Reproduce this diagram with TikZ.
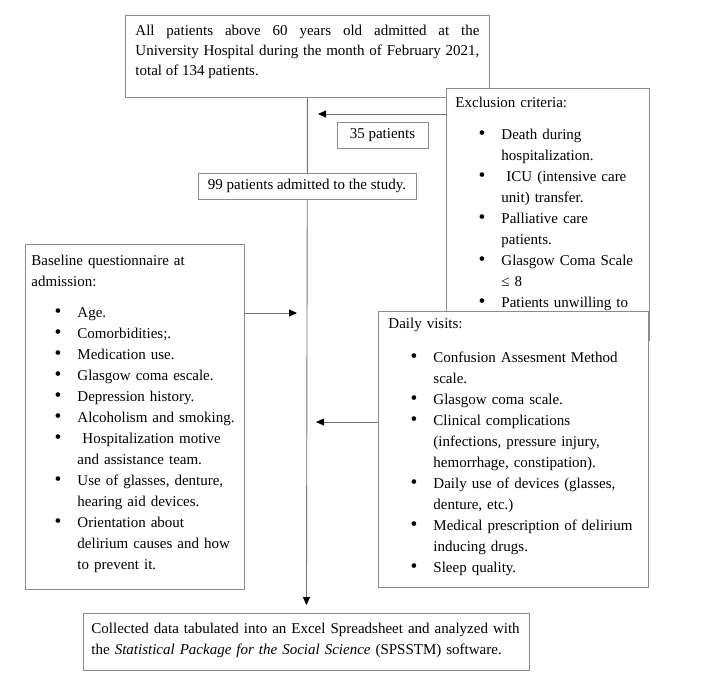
\documentclass[tikz,border=0pt]{standalone}
\usepackage{fontspec}
\setmainfont{Liberation Serif}
\usepackage{enumitem}
\usepackage{tikz}
\usetikzlibrary{arrows.meta}

\setlist[itemize]{label=\scalebox{1.3}{\textbullet}, leftmargin=46pt, labelsep=16pt,
  topsep=11pt, partopsep=0pt, itemsep=0pt, parsep=0pt}

\begin{document}
\begin{tikzpicture}[x=1pt, y=-1pt,
  box/.style={draw=black!45, line width=0.9pt, fill=white, inner ysep=0pt,
    align=left, font=\fontsize{15}{21}\selectfont},
  count/.style={draw=black!45, line width=0.9pt, fill=white, inner sep=0pt,
    minimum height=26pt, text height=10.5pt, text depth=3.5pt,
    font=\fontsize{15}{21}\selectfont},
  flow/.style={draw=black!55, line width=0.9pt},
  arr/.style={flow, -{Triangle[length=8pt, width=7pt, color=black]}}]

\useasboundingbox (0,0) rectangle (718,681);

\node[box, anchor=north west, inner xsep=10pt, text width=344pt, align=justify,
  font=\fontsize{15}{20}\selectfont, text height=20pt, text depth=62pt] (all) at (125,15)
  {All patients above 60 years old admitted at the\linebreak
   University Hospital during the month of February 2021,\linebreak
   total of 134 patients.};

\node[box, anchor=north west, inner xsep=8pt, text width=430pt,
  text height=20pt, text depth=37pt] (spss) at (83,613)
  {\mbox{Collected data tabulated into an Excel Spreadsheet and analyzed with}\\
   the \textit{Statistical Package for the Social Science} (SPSSTM) software.};

\draw[arr, shorten >=8pt] (all.south) -- (spss.north);

\node[count, minimum width=218pt] (kept) at (307,186) {99 patients admitted to the study.};
\node[count, minimum width=91pt] (lost) at (382.5,135) {35 patients};

\node[box, anchor=north west, inner xsep=9pt, text width=185pt,
  text height=19pt, text depth=233pt] (excl) at (446,88)
  {Exclusion criteria:
   \begin{itemize}
     \item Death during\newline hospitalization.
     \item \ ICU (intensive care\newline unit) transfer.
     \item Palliative care\newline patients.
     \item Glasgow Coma Scale\newline ≤ 8
     \item Patients unwilling to
   \end{itemize}};

\node[box, anchor=north west, inner xsep=6pt, text width=207pt,
  text height=21pt, text depth=324pt] (quest) at (25,244)
  {Baseline questionnaire at\newline admission:
   \begin{itemize}[topsep=10pt]
     \item Age.
     \item Comorbidities;.
     \item Medication use.
     \item Glasgow coma escale.
     \item Depression history.
     \item Alcoholism and smoking.
     \item \ Hospitalization motive\newline and assistance team.
     \item Use of glasses, denture,\newline hearing aid devices.
     \item Orientation about\newline delirium causes and how\newline to prevent it.
   \end{itemize}};

\node[box, anchor=north west, inner xsep=10pt, text width=250pt,
  text height=17pt, text depth=259pt] (daily) at (378,311)
  {Daily visits:
   \begin{itemize}[leftmargin=45pt, topsep=13pt]
     \item Confusion Assesment Method\newline scale.
     \item Glasgow coma scale.
     \item Clinical complications\newline (infections, pressure injury,\newline hemorrhage, constipation).
     \item Daily use of devices (glasses,\newline denture, etc.)
     \item Medical prescription of delirium\newline inducing drugs.
     \item Sleep quality.
   \end{itemize}};

\coordinate (ex) at (318,114);
\coordinate (qu) at (297,313);
\coordinate (dv) at (316,422);

\foreach \src/\side/\tip in {excl/west/ex, quest/east/qu, daily/west/dv}
    \draw[arr] (\src.\side |- \tip) -- (\tip);

\end{tikzpicture}
\end{document}
